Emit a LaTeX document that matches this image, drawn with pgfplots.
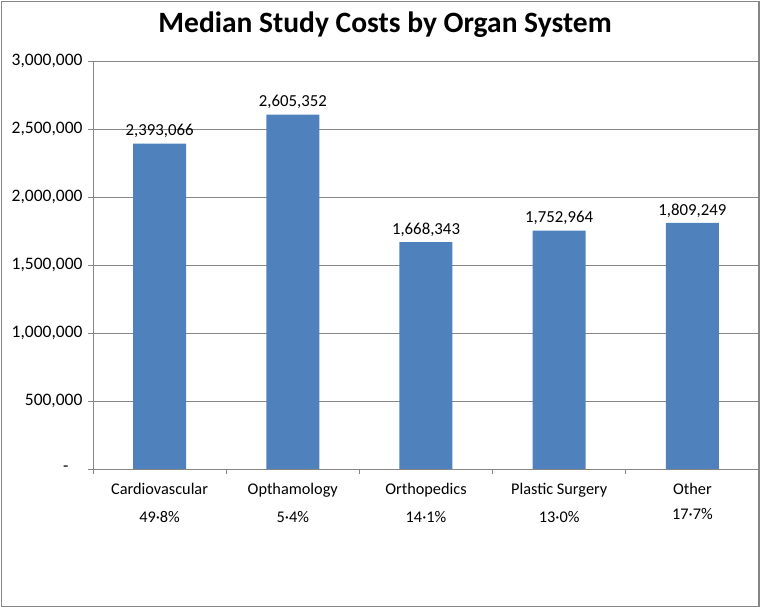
\documentclass[border=0pt]{standalone}
\usepackage{fontspec}
\setmainfont{Carlito}
\usepackage{pgfplots}
\pgfplotsset{compat=1.18}
\definecolor{barblue}{RGB}{79,129,189}
\definecolor{axgray}{RGB}{134,134,134}
\begin{document}
\begin{tikzpicture}[x=1pt,y=1pt]
\useasboundingbox (0,0) rectangle (761,609);
\draw[color=axgray, line width=1.3pt] (1.5,2.5) rectangle (759,607.5);
\node[font=\fontsize{29.5}{35}\selectfont\bfseries] at (385,584) {Median Study Costs by Organ System};
\begin{axis}[
  at={(93pt,140pt)}, anchor=south west,
  scale only axis, width=666pt, height=408pt,
  ymin=0, ymax=3000000,
  xmin=-0.5, xmax=4.5,
  axis lines*=left,
  axis line style={color=axgray, line width=0.8pt},
  ymajorgrids, grid style={color=axgray, line width=0.8pt},
  ytick={0,500000,1000000,1500000,2000000,2500000,3000000},
  yticklabels={{-\hspace*{14pt}\mbox{}},{500,000},{1,000,000},{1,500,000},{2,000,000},{2,500,000},{3,000,000}},
  scaled y ticks=false,
  tick align=outside,
  major tick length=5pt,
  y tick style={color=axgray, line width=0.8pt},
  xtick={0,1,2,3,4},
  x tick style={draw=none},
  minor xtick={-0.5,0.5,1.5,2.5,3.5,4.5},
  minor x tick style={draw=axgray, line width=0.8pt},
  minor tick length=5pt,
  xticklabels={{Cardiovascular\\[9pt]49·8\%},{Opthamology\\[9pt]5·4\%},{Orthopedics\\[9pt]14·1\%},{Plastic Surgery\\[9pt]13·0\%},{Other\\[6pt]17·7\%}},
  xticklabel style={align=center, font=\fontsize{16.3}{19}\selectfont, yshift=-6pt},
  yticklabel style={font=\fontsize{17.5}{20}\selectfont, xshift=-2pt},
  point meta=explicit symbolic,
  nodes near coords,
  nodes near coords style={font=\fontsize{16.8}{20}\selectfont, anchor=south, yshift=2pt},
]
\addplot[ybar, bar width=53pt, fill=barblue, draw=none] table[x=x, y=y, meta=lab] {
x y lab
0 2393066 2,393,066
1 2605352 2,605,352
2 1668343 1,668,343
3 1752964 1,752,964
4 1809249 1,809,249
};
\end{axis}
\end{tikzpicture}
\end{document}
